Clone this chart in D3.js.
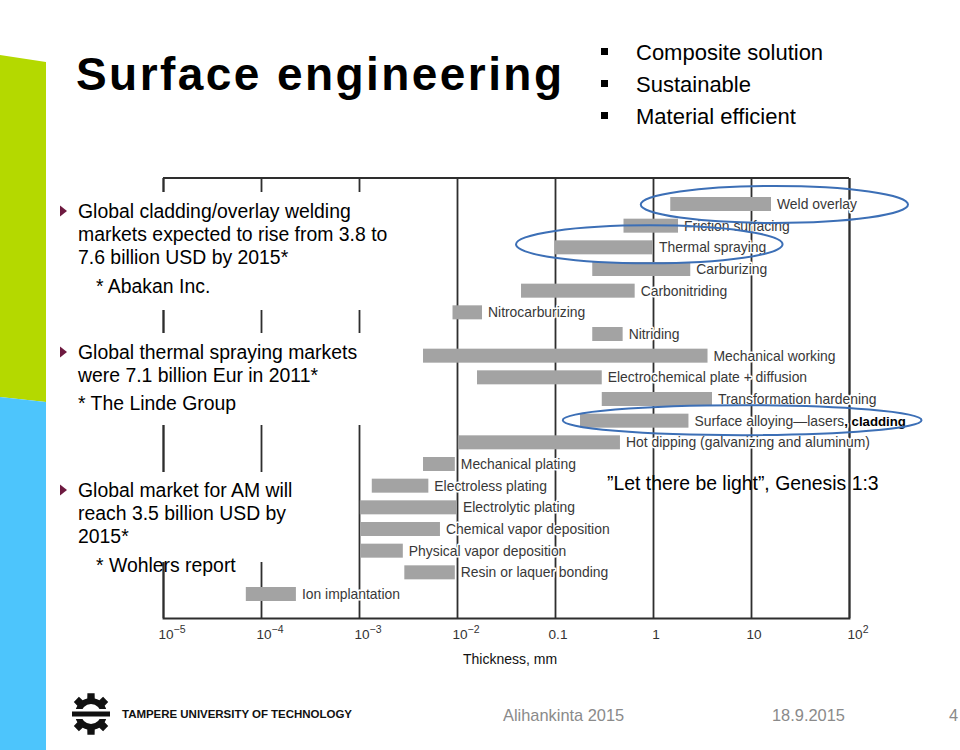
<!DOCTYPE html>
<html>
<head>
<meta charset="utf-8">
<script src="https://cdn.jsdelivr.net/npm/d3@7"></script>
<style>
  html, body { margin: 0; padding: 0; background: #fff; }
  svg { display: block; font-family: "Liberation Sans", Arial, sans-serif; }
</style>
</head>
<body>
<script>
// ---------------- DATA ----------------
const categories = [
  "Weld overlay", "Friction surfacing", "Thermal spraying", "Carburizing",
  "Carbonitriding", "Nitrocarburizing", "Nitriding", "Mechanical working",
  "Electrochemical plate + diffusion", "Transformation hardening",
  "Surface alloying\u2014lasers", "Hot dipping (galvanizing and aluminum)",
  "Mechanical plating", "Electroless plating", "Electrolytic plating",
  "Chemical vapor deposition", "Physical vapor deposition",
  "Resin or laquer bonding", "Ion implantation"
];
// thickness range, mm
const minThickness = [1.5, 0.5, 0.1, 0.24, 0.045, 0.009, 0.24, 0.0045, 0.016, 0.3,
  0.18, 0.0102, 0.0045, 0.00135, 0.00102, 0.00104, 0.00104, 0.0029, 0.00007];
const maxThickness = [16, 1.8, 1.0, 2.4, 0.65, 0.018, 0.49, 3.6, 0.3, 4.0,
  2.3, 0.46, 0.0095, 0.0051, 0.01, 0.0067, 0.0028, 0.0095, 0.000227];

const tickValues = [1e-5, 1e-4, 1e-3, 1e-2, 0.1, 1, 10, 100];
const tickBase = ["10", "10", "10", "10", "0.1", "1", "10", "10"];
const tickExp  = ["\u22125", "\u22124", "\u22123", "\u22122", "", "", "", "2"];
const axisTitle = "Thickness, mm";

// highlighted (encircled) processes and the thickness span of each ellipse
const highlightCats = ["Weld overlay", "Thermal spraying", "Surface alloying\u2014lasers"];
const highlightFrom = [0.75, 0.04, 0.12];
const highlightTo   = [400, 21, 550];
const labelSuffixCat = "Surface alloying\u2014lasers";
const labelSuffix = ", cladding";

const titleText = "Surface engineering";
const topBullets = ["Composite solution", "Sustainable", "Material efficient"];
const block1 = ["Global cladding/overlay welding", "markets expected to rise from 3.8 to", "7.6 billion USD by 2015*"];
const block1Note = "* Abakan Inc.";
const block2 = ["Global thermal spraying markets", "were 7.1 billion Eur in 2011*"];
const block2Note = "* The Linde Group";
const block3 = ["Global market for AM will", "reach 3.5 billion USD by", "2015*"];
const block3Note = "* Wohlers report";
const quoteText = "\u201DLet there be light\u201D, Genesis 1:3";
const footer = ["Alihankinta 2015", "18.9.2015", "4"];
const uniName = "TAMPERE UNIVERSITY OF TECHNOLOGY";

// ---------------- DRAW ----------------
(function () {
const svg = d3.select("body").append("svg").attr("width", 960).attr("height", 750);
svg.append("rect").attr("width", 960).attr("height", 750).attr("fill", "#fff");

// left colour strips
svg.append("polygon").attr("points", "0,55 46,62 46,402 0,397").attr("fill", "#b4d900");
svg.append("polygon").attr("points", "0,397 46,402 46,750 0,750").attr("fill", "#4dc5fc");

// chart
const plotTop = 178, plotBottom = 618;
const x = d3.scaleLog().domain([1e-5, 100]).range([163, 849]);
const y = d3.scalePoint().domain(categories).range([204, 594]);
const ink = "#2e2e2e";

const gAxis = svg.append("g").attr("transform", `translate(0,${plotBottom})`)
  .call(d3.axisBottom(x).tickValues(tickValues).tickSize(-(plotBottom - plotTop)).tickFormat(""));
gAxis.selectAll("line").attr("stroke", ink).attr("stroke-width", 1.8);
gAxis.select(".domain").attr("stroke", ink).attr("stroke-width", 1.9).attr("fill", "none");
svg.append("line").attr("x1", x(1e-5)).attr("x2", x(100)).attr("y1", plotTop).attr("y2", plotTop)
  .attr("stroke", ink).attr("stroke-width", 1.9);

const rows = categories.map((c, i) => ({ c, lo: minThickness[i], hi: maxThickness[i] }));

svg.append("g").selectAll("rect").data(rows).join("rect")
  .attr("x", d => x(d.lo)).attr("width", d => x(d.hi) - x(d.lo))
  .attr("y", d => y(d.c) - 7).attr("height", 14)
  .attr("fill", "#a3a3a3");

const labels = svg.append("g").selectAll("text").data(rows).join("text")
  .attr("x", d => x(d.hi) + 6).attr("y", d => y(d.c) + 5)
  .attr("font-size", 13.9).attr("fill", "#383838")
  .attr("stroke", "#fff").attr("stroke-width", 3).attr("paint-order", "stroke")
  .attr("stroke-linejoin", "round");
labels.append("tspan").text(d => d.c);
labels.filter(d => d.c === labelSuffixCat).append("tspan")
  .attr("font-weight", "bold").attr("fill", "#000").attr("font-size", 13.2).text(labelSuffix);

// tick labels
const tl = svg.append("g").selectAll("text").data(tickValues).join("text")
  .attr("x", (d, i) => x(d) + (tickExp[i] ? 9 : 3)).attr("y", 639)
  .attr("text-anchor", "middle").attr("font-size", 13.6).attr("fill", "#333");
tl.append("tspan").text((d, i) => tickBase[i]);
tl.append("tspan").attr("dy", -6).attr("font-size", 10.5).text((d, i) => tickExp[i]);

svg.append("text").attr("x", 510).attr("y", 664).attr("text-anchor", "middle")
  .attr("font-size", 14).attr("fill", "#111").text(axisTitle);

// ellipses
const hl = highlightCats.map((c, i) => ({ c, a: highlightFrom[i], b: highlightTo[i] }));
const ry = [18.5, 19, 15], dyE = [0.5, -3, -0.5];
svg.append("g").selectAll("ellipse").data(hl).join("ellipse")
  .attr("cx", d => (x(d.a) + x(d.b)) / 2).attr("rx", d => (x(d.b) - x(d.a)) / 2)
  .attr("cy", (d, i) => y(d.c) + dyE[i]).attr("ry", (d, i) => ry[i])
  .attr("fill", "none").attr("stroke", "#3c6fb6").attr("stroke-width", 2);

// white text boxes covering the left part of the chart
[[50, 192, 395, 118], [50, 333, 365, 92], [50, 472, 302, 90]].forEach(b =>
  svg.append("rect").attr("x", b[0]).attr("y", b[1]).attr("width", b[2]).attr("height", b[3]).attr("fill", "#fff"));

// title
svg.append("text").attr("x", 76).attr("y", 90).attr("font-size", 46).attr("font-weight", "bold")
  .attr("textLength", 486).attr("lengthAdjust", "spacing").attr("fill", "#000").text(titleText);

// top-right bullets
topBullets.forEach((t, i) => {
  const cy = 52 + i * 32;
  svg.append("rect").attr("x", 601).attr("y", cy - 4).attr("width", 7).attr("height", 7).attr("fill", "#000");
  svg.append("text").attr("x", 636).attr("y", cy + 8).attr("font-size", 22).attr("fill", "#000").text(t);
});

// left bullet blocks
function tri(cy) {
  svg.append("polygon").attr("points", `60,${cy - 5.5} 67,${cy} 60,${cy + 5.5}`).attr("fill", "#6e1a40");
}
function lines(arr, y0, step) {
  arr.forEach((t, i) => svg.append("text").attr("x", 78).attr("y", y0 + i * step)
    .attr("font-size", 19.4).attr("fill", "#000").text(t));
}
tri(211); lines(block1, 218, 23);
svg.append("text").attr("x", 96).attr("y", 293).attr("font-size", 19.4).text(block1Note);
tri(352); lines(block2, 359, 23);
svg.append("text").attr("x", 78).attr("y", 410).attr("font-size", 19.4).text(block2Note);
tri(490); lines(block3, 497, 23);
svg.append("text").attr("x", 96).attr("y", 572).attr("font-size", 19.4).text(block3Note);

svg.append("text").attr("x", 607).attr("y", 490).attr("font-size", 19.4).attr("fill", "#000").text(quoteText);

// footer
svg.append("text").attr("x", 503).attr("y", 721).attr("font-size", 16.4).attr("fill", "#8a8a8a").text(footer[0]);
svg.append("text").attr("x", 772).attr("y", 721).attr("font-size", 16.4).attr("fill", "#8a8a8a").text(footer[1]);
svg.append("text").attr("x", 949).attr("y", 721).attr("font-size", 16.4).attr("fill", "#8a8a8a").text(footer[2]);

// university logo (gear)
const gx = 91, gy = 714;
const nT = 8, rO = 21, rI = 16;
const pts = [];
for (let i = 0; i < nT; i++) {
  const a0 = (i / nT) * 2 * Math.PI + Math.PI / 8;
  const w = (2 * Math.PI / nT);
  [[0, rI], [0.2, rI], [0.28, rO], [0.72, rO], [0.8, rI]].forEach(p => {
    const a = a0 + p[0] * w;
    pts.push([gx + p[1] * Math.cos(a), gy + p[1] * Math.sin(a)]);
  });
}
svg.append("polygon").attr("points", pts.map(p => p.join(",")).join(" ")).attr("fill", "#111");
svg.append("circle").attr("cx", gx).attr("cy", gy).attr("r", 10).attr("fill", "#fff");
svg.append("rect").attr("x", gx - 22).attr("y", gy - 5).attr("width", 44).attr("height", 10).attr("fill", "#fff");
svg.append("rect").attr("x", gx - 19).attr("y", gy - 2.5).attr("width", 38).attr("height", 5).attr("fill", "#111");
svg.append("text").attr("x", 122).attr("y", 718).attr("font-size", 11.5).attr("font-weight", "bold")
  .attr("textLength", 230).attr("lengthAdjust", "spacing").attr("fill", "#111").text(uniName);
})();
</script>
</body>
</html>
